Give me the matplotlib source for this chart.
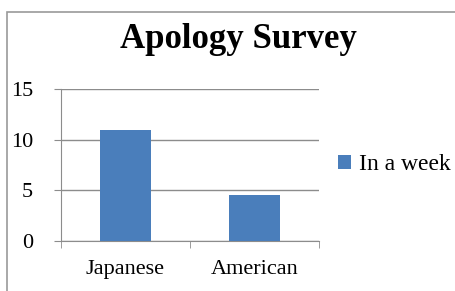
import matplotlib.pyplot as plt
from matplotlib.patches import Rectangle

# data
categories = ["Japanese", "American"]
in_a_week = [11, 4.5]
y_ticks = [0, 5, 10, 15]

bar_color = "#4a7ebb"
grid_color = "#8c8c8c"

plt.rcParams['font.family'] = ['Liberation Serif', 'DejaVu Serif']

fig = plt.figure(figsize=(4.55, 2.91), dpi=100)

# frame of the scanned chart box
fig.patches.append(Rectangle((7 / 455, -0.05), 1.1, 1 - 12 / 291 + 0.05,
                             transform=fig.transFigure, fill=False,
                             edgecolor="#9a9a9a", linewidth=1.2))

ax = fig.add_axes([61 / 455, 1 - 241 / 291, 258 / 455, 152 / 291])
x = range(len(categories))
ax.bar(x, in_a_week, width=0.4, color=bar_color, label="In a week", zorder=3)

ax.set_xlim(-0.5, len(categories) - 0.5)
ax.set_ylim(0, 15)
ax.set_yticks(y_ticks)
ax.set_xticks(x)
ax.set_xticklabels(categories, fontsize=16)
ax.tick_params(axis='x', length=0, pad=14)
ax.tick_params(axis='y', labelsize=16, length=5, color=grid_color, pad=15)
# category boundary ticks on the x axis
ax.set_xticks([-0.5, 0.5, 1.5], minor=True)
ax.tick_params(axis='x', which='minor', length=5, color=grid_color)

ax.grid(axis='y', color=grid_color, linewidth=1, zorder=0)
for s in ["top", "right"]:
    ax.spines[s].set_visible(False)
ax.spines["left"].set_color(grid_color)
ax.spines["bottom"].set_color(grid_color)

fig.text(238 / 455, 1 - 48 / 291, "Apology Survey", ha="center", va="baseline",
         fontsize=25, fontweight="bold")

ax.legend(loc="center left", bbox_to_anchor=(1.0, 0.5), frameon=False,
          fontsize=17, handlelength=0.55, handleheight=0.55, handletextpad=0.35,
          borderpad=0.3)

fig.savefig("out.png", dpi=100)
